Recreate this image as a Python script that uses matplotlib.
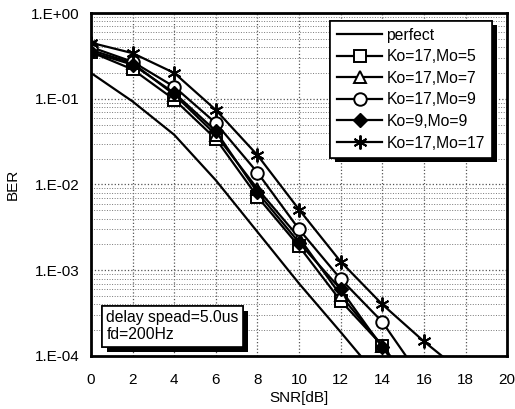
import matplotlib
matplotlib.use("Agg")
import matplotlib.pyplot as plt
import matplotlib.patheffects as pe
from matplotlib.ticker import FixedLocator, LogLocator, NullFormatter

plt.rcParams['font.family'] = ['Liberation Sans', 'DejaVu Sans']

# SNR points (dB)
snr = [0, 2, 4, 6, 8, 10, 12, 14, 16, 18]

# BER values
perfect = [0.20, 0.093, 0.038, 0.0112, 0.0028, 0.0007, 0.00019, 0.00005]
ko17_mo5 = [0.35, 0.22, 0.098, 0.034, 0.0072, 0.0019, 0.00044, 0.000132, 0.00003]
ko17_mo7 = [0.37, 0.26, 0.112, 0.038, 0.0089, 0.0024, 0.00051, 0.000132, 0.00003]
ko17_mo9 = [0.40, 0.27, 0.138, 0.052, 0.0138, 0.0030, 0.00079, 0.00025, 0.00005]
ko9_mo9 = [0.35, 0.25, 0.117, 0.042, 0.0081, 0.0021, 0.0006, 0.000126, 0.00003]
ko17_mo17 = [0.45, 0.34, 0.20, 0.074, 0.022, 0.0051, 0.00126, 0.0004, 0.000148, 0.00006]

ytick_vals = [1e0, 1e-1, 1e-2, 1e-3, 1e-4]
ytick_labels = ["1.E+00", "1.E-01", "1.E-02", "1.E-03", "1.E-04"]

fig = plt.figure(figsize=(5.15, 4.09), dpi=100)
ax = fig.add_axes([0.1767, 0.1296, 0.808, 0.8386])

lw = 1.6
ax.plot(snr[:len(perfect)], perfect, color='black', lw=lw, label='perfect')
ax.plot(snr[:len(ko17_mo5)], ko17_mo5, color='black', lw=lw, marker='s', ms=8,
        mfc='white', mec='black', mew=1.4, label='Ko=17,Mo=5')
ax.plot(snr[:len(ko17_mo7)], ko17_mo7, color='black', lw=lw, marker='^', ms=8,
        mfc='white', mec='black', mew=1.4, label='Ko=17,Mo=7')
ax.plot(snr[:len(ko17_mo9)], ko17_mo9, color='black', lw=lw, marker='o', ms=9,
        mfc='white', mec='black', mew=1.4, label='Ko=17,Mo=9')
ax.plot(snr[:len(ko9_mo9)], ko9_mo9, color='black', lw=lw, marker='D', ms=7,
        mfc='black', mec='black', label='Ko=9,Mo=9')
ax.plot(snr[:len(ko17_mo17)], ko17_mo17, color='black', lw=lw, marker=(6, 2, 0), ms=10,
        mec='black', mew=1.4, label='Ko=17,Mo=17')

ax.set_yscale('log')
ax.set_xlim(0, 20)
ax.set_ylim(1e-4, 1)
ax.xaxis.set_major_locator(FixedLocator(range(0, 21, 2)))
ax.yaxis.set_major_locator(FixedLocator(ytick_vals))
ax.set_yticklabels(ytick_labels)
ax.yaxis.set_minor_locator(LogLocator(base=10, subs=[2, 3, 4, 5, 6, 7, 8, 9]))
ax.yaxis.set_minor_formatter(NullFormatter())
ax.tick_params(which='both', length=0, labelsize=11)
ax.tick_params(axis='x', pad=12)
ax.tick_params(axis='y', pad=8)

ax.grid(True, which='major', color='#555555', ls=':', lw=0.9)
ax.grid(True, which='minor', axis='y', color='#777777', ls=':', lw=0.7)

for sp in ax.spines.values():
    sp.set_linewidth(2)

ax.set_xlabel('SNR[dB]', fontsize=11, labelpad=3)
ax.set_ylabel('BER', fontsize=11, labelpad=8)

shadow = [pe.withSimplePatchShadow(offset=(3.5, -3.5), shadow_rgbFace='black', alpha=1),
          pe.Normal()]

leg = ax.legend(loc='upper right', bbox_to_anchor=(0.963, 0.978), fontsize=11.3,
                frameon=True, fancybox=False, edgecolor='black', framealpha=1,
                handlelength=2.9, labelspacing=0.42, borderpad=0.45,
                handletextpad=0.25, borderaxespad=0)
leg.get_frame().set_linewidth(1.2)
leg.get_frame().set_path_effects(shadow)

txt = ax.text(0.037, 0.04, 'delay spead=5.0us\nfd=200Hz', transform=ax.transAxes,
              fontsize=11.3, va='bottom', ha='left', linespacing=1.15,
              bbox=dict(boxstyle='square,pad=0.3', fc='white', ec='black', lw=1.2))
txt.get_bbox_patch().set_path_effects(shadow)

fig.savefig('out.png', dpi=100)
